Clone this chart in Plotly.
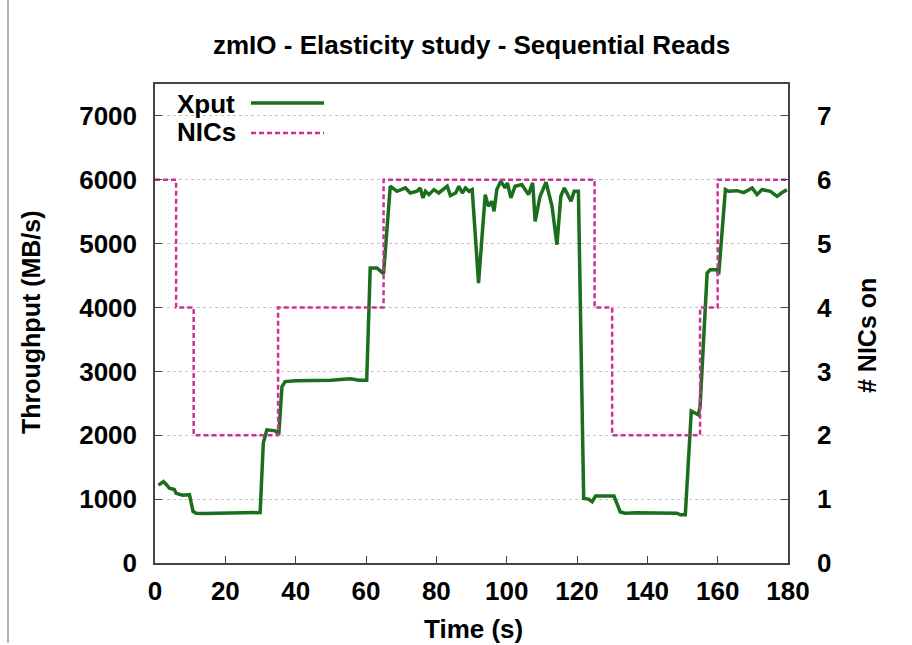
import plotly.graph_objects as go

# Throughput samples (seconds, MB/s)
xput_t = [1, 2.4, 3.2, 4.1, 5.5, 6, 7.9, 9.8, 10.8, 11.7, 14, 17, 20, 23, 26, 29.9,
          30.8, 31.8, 34.2, 35.2, 36.1, 37, 40, 45, 50, 55.5, 58, 60.2, 61.2, 63.1, 65,
          66.9, 68.8, 71.2, 72.6, 74.5, 75.4, 76.2, 76.9, 77.9, 79.3, 80.7, 83.1, 84,
          85.5, 86.4, 87.4, 88.3, 89.3, 90.2, 92, 93.9, 94.8, 95.8, 96.4, 97.2, 98.3,
          99.6, 100.2, 101.2, 102.4, 104.3, 106.2, 107.4, 108.1, 109.5, 111.2, 112.9,
          114.3, 115.4, 116.4, 118.3, 119.2, 120.4, 121.9, 123.3, 124.3, 125.3, 129.9,
          130.5, 132.3, 133.7, 137, 140, 144, 148.4, 149.4, 150.8, 152.5, 154.5, 155,
          157, 157.9, 159.8, 160.3, 162.2, 163.1, 165.5, 167.4, 169.8, 171.2, 172.6,
          175, 176.9, 178.3, 179.7]
xput_v = [1220, 1275, 1230, 1170, 1150, 1090, 1060, 1070, 810, 780, 775, 780, 785, 785, 790, 790,
          1880, 2085, 2070, 2010, 2760, 2840, 2855, 2860, 2860, 2885, 2860, 2860, 4620, 4620, 4530,
          5900, 5820, 5873, 5794, 5820, 5873, 5716, 5820, 5768, 5846, 5794, 5899, 5752,
          5794, 5899, 5794, 5873, 5820, 5846, 4384, 5768, 5585, 5664, 5507, 5846, 5977,
          5873, 5951, 5716, 5899, 5925, 5768, 5951, 5350, 5742, 5962, 5585,
          4984, 5742, 5873, 5664, 5820, 5820, 1010, 1000, 960, 1050, 1060,
          1050, 800, 780, 785, 785, 780, 780, 755, 755, 2380, 2320, 2450,
          4540, 4590, 4590, 4520, 5846, 5820, 5830, 5800, 5873, 5768, 5846,
          5820, 5742, 5800, 5846]

# Number of NICs switched on (step changes)
nic_t = [0, 6, 11, 35, 65, 125, 130, 155, 160, 180]
nic_v = [6, 4, 2, 4, 6, 4, 2, 4, 6, 6]

x_ticks = [0, 20, 40, 60, 80, 100, 120, 140, 160, 180]
y_ticks = [0, 1000, 2000, 3000, 4000, 5000, 6000, 7000]
y2_ticks = [0, 1, 2, 3, 4, 5, 6, 7]

GREEN = "#1b6e1b"
MAGENTA = "#cc3399"
FONT = "Liberation Sans"
NIC_DASH = "5px,3px"

fig = go.Figure()
fig.add_trace(go.Scatter(x=nic_t, y=nic_v, yaxis="y2", mode="lines", line_shape="hv",
                         line=dict(color=MAGENTA, width=2.5, dash=NIC_DASH),
                         name="NICs", showlegend=False))
fig.add_trace(go.Scatter(x=xput_t, y=xput_v, mode="lines",
                         line=dict(color=GREEN, width=3.5),
                         name="Xput", showlegend=False))

L, R, T, B = 155, 788, 84, 563
W, H = 912, 645


def px(xp):
    return (xp - L) / (R - L)


def py(yp):
    return (B - yp) / (B - T)


tick_font = dict(family=FONT, size=26, color="black", weight="bold")
lab_font = dict(family=FONT, size=25, color="black", weight="bold")
title_font = dict(family=FONT, size=26, color="black", weight="bold")

axis_common = dict(showline=True, linecolor="#444", linewidth=1.5,
                   ticks="inside", ticklen=7, tickcolor="#444", zeroline=False)

fig.update_layout(
    width=W, height=H,
    margin=dict(l=L, r=W - R, t=T, b=H - B, autoexpand=False),
    paper_bgcolor="white", plot_bgcolor="white",
    xaxis=dict(range=[0, 180], tickvals=x_ticks, tickfont=tick_font, mirror=True,
               showgrid=False, ticklabelstandoff=4, **axis_common),
    yaxis=dict(range=[0, 7500], tickvals=y_ticks, tickfont=tick_font,
               showgrid=True, gridcolor="#c4c4c4", griddash="dot", gridwidth=1,
               ticklabelstandoff=11, **axis_common),
    yaxis2=dict(range=[0, 7.5], tickvals=y2_ticks, tickfont=tick_font, overlaying="y",
                side="right", showgrid=False, ticklabelstandoff=22, **axis_common),
    showlegend=False,
)

annotations = [
    dict(text="zmIO - Elasticity study - Sequential Reads", x=px(471.5), y=py(45),
         font=title_font),
    dict(text="Time (s)", x=px(473), y=py(629), font=title_font),
    dict(text="Throughput (MB/s)", x=px(31), y=py(322), textangle=-90, font=lab_font),
    dict(text="# NICs on", x=px(867), y=py(336), textangle=-90, font=lab_font),
    dict(text="Xput", x=px(175), y=py(104), xanchor="left", font=title_font),
    dict(text="NICs", x=px(175), y=py(132), xanchor="left", font=title_font),
]
for a in annotations:
    a.setdefault("xanchor", "center")
    fig.add_annotation(xref="paper", yref="paper", yanchor="middle", showarrow=False, **a)

# legend line samples
fig.add_shape(type="line", xref="paper", yref="paper", x0=px(251), x1=px(324),
              y0=py(103), y1=py(103), line=dict(color=GREEN, width=3.5))
fig.add_shape(type="line", xref="paper", yref="paper", x0=px(251), x1=px(324),
              y0=py(133), y1=py(133), line=dict(color=MAGENTA, width=2.5, dash=NIC_DASH))
# outer frame edge on the left
fig.add_shape(type="line", xref="paper", yref="paper", x0=px(8), x1=px(8),
              y0=py(0), y1=py(643), line=dict(color="#999", width=1.5))

fig.write_html("out.html")
